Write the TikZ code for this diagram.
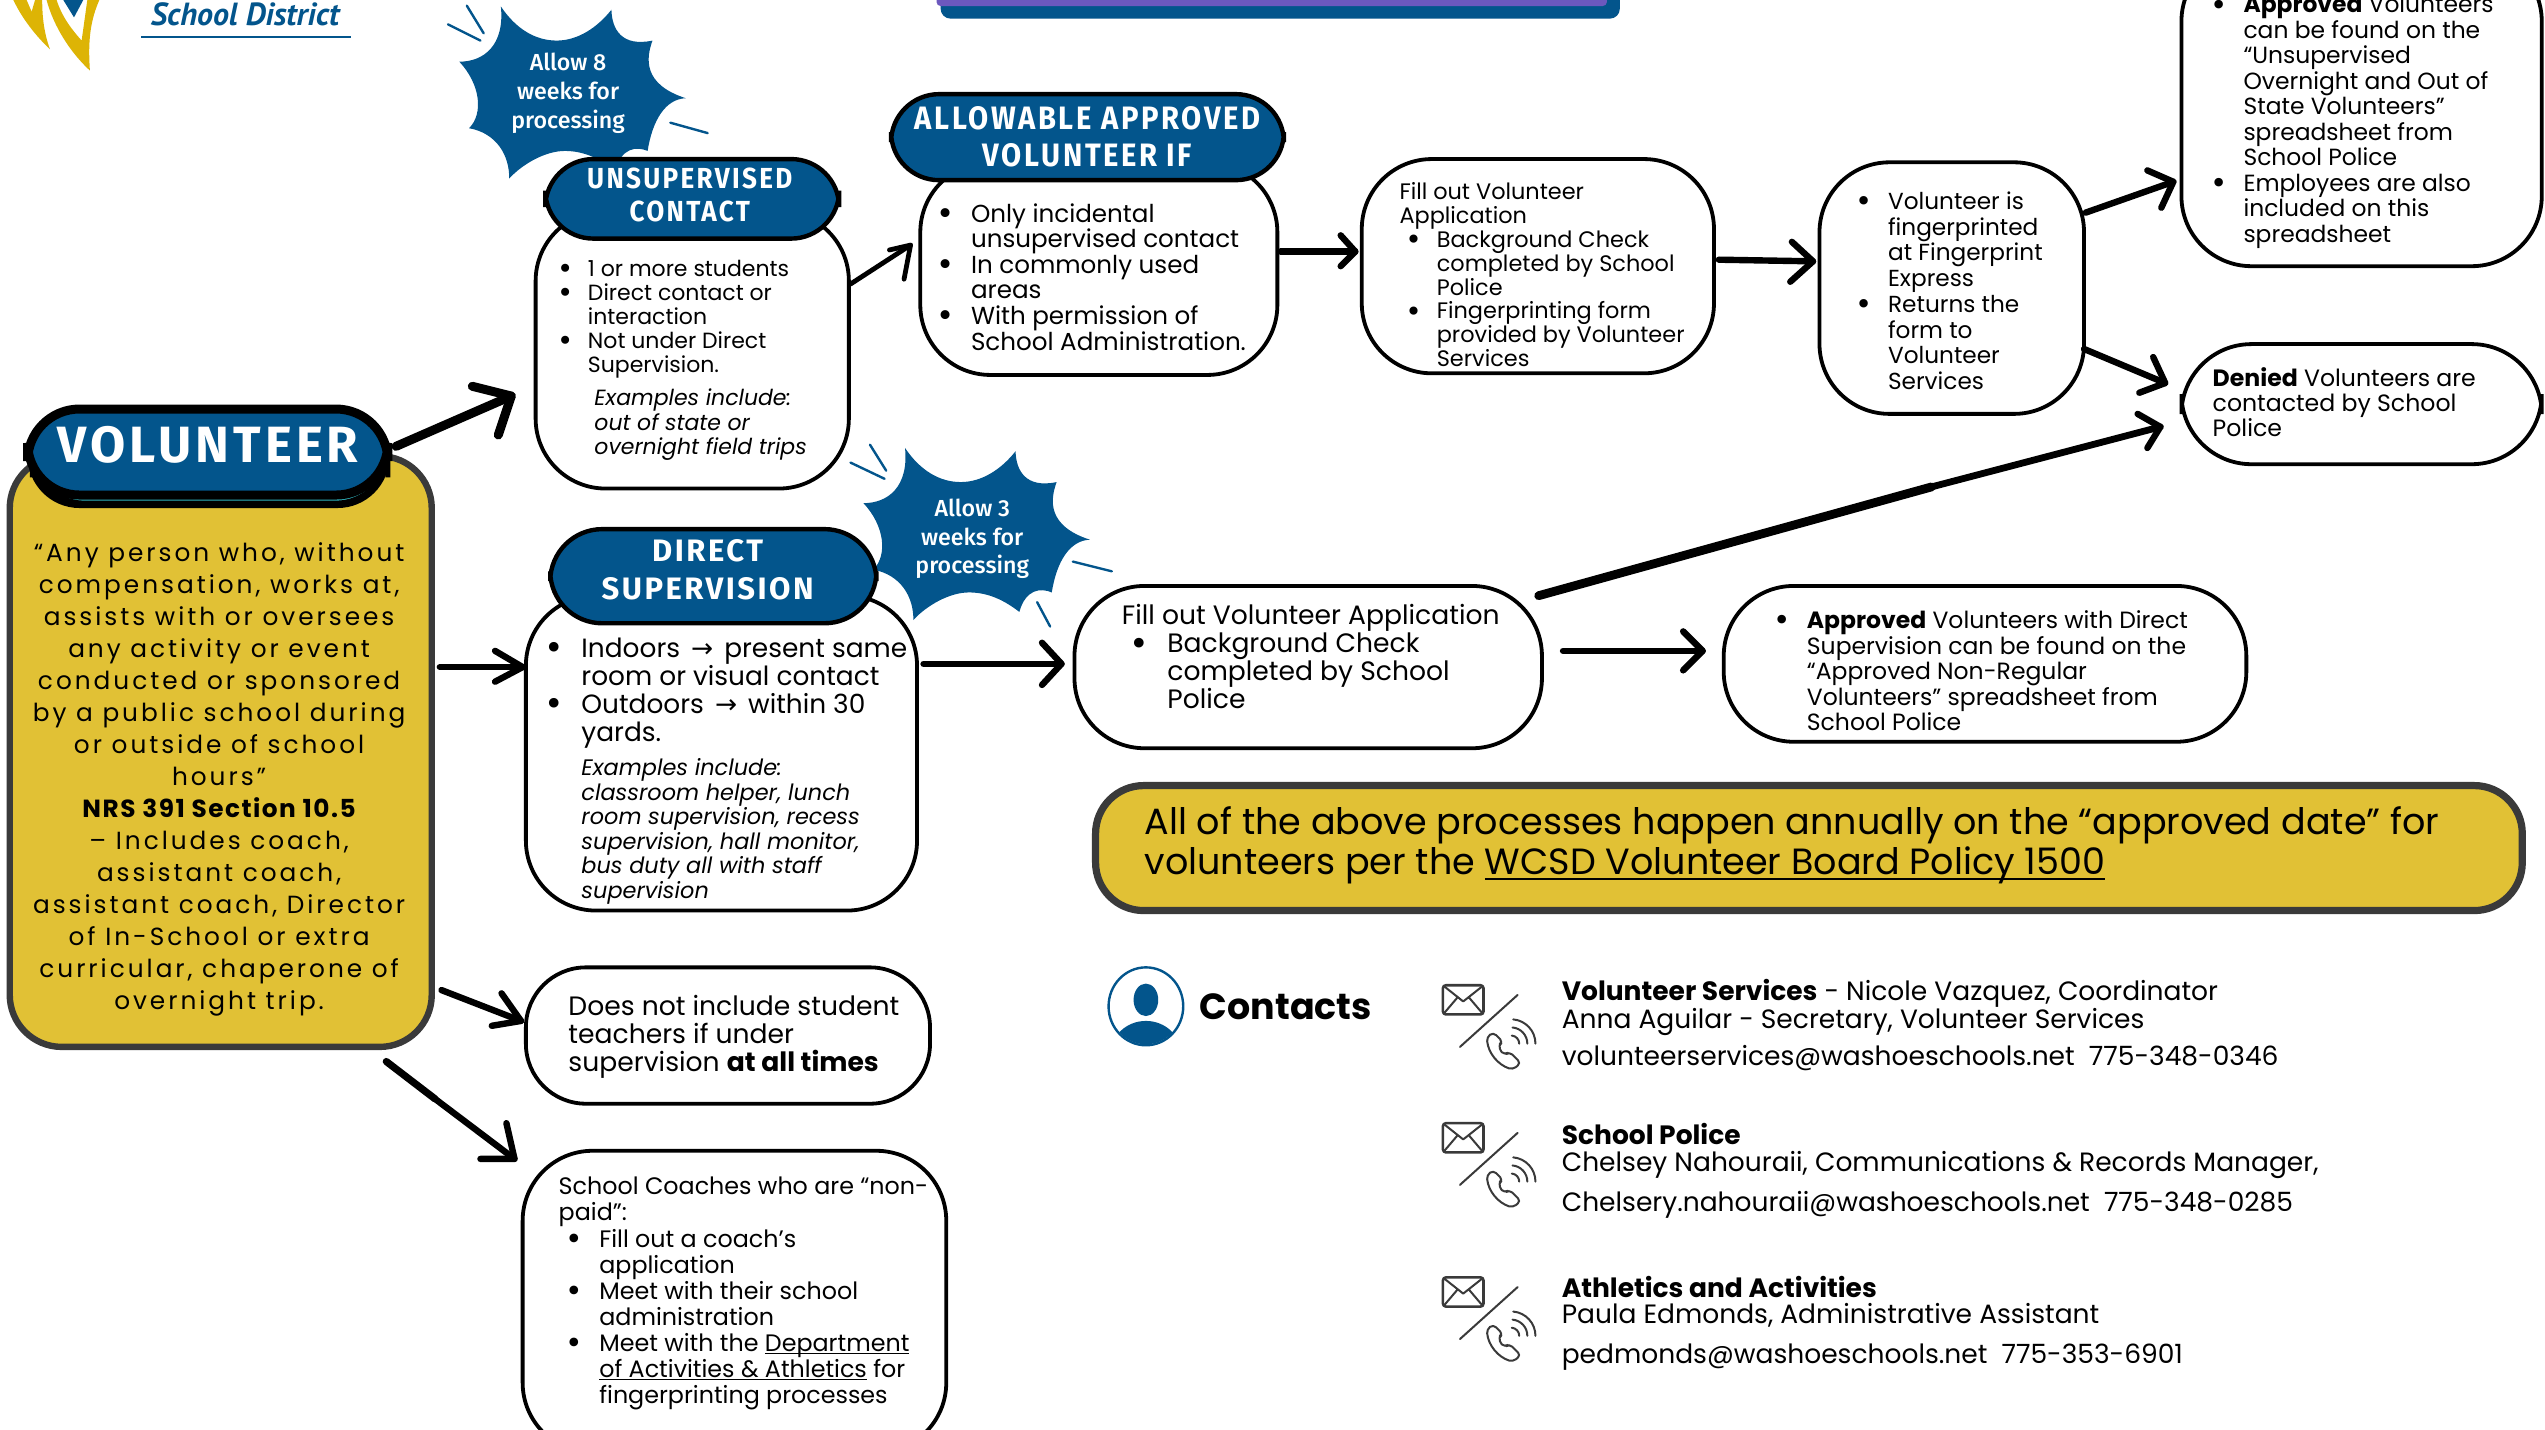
\documentclass[tikz,border=0pt]{standalone}
\usepackage{fontspec}
\setmainfont{Poppins}
\newfontfamily\headfont[LetterSpace=8]{Fira Sans Bold}
\newfontfamily\headnarrow[LetterSpace=8,FakeStretch=0.9]{Fira Sans Bold}
\newfontfamily\burstfont{Fira Sans Medium}
\newfontfamily\voltext[LetterSpace=12]{Poppins}
\newfontfamily\volbold[LetterSpace=6]{Poppins Bold}
\newfontfamily\logofont{PT Sans}
\newfontfamily\symfont{DejaVu Sans}
\definecolor{navy}{HTML}{03558C}
\definecolor{gold}{HTML}{E1C135}
\definecolor{edge}{HTML}{3A3A3A}
\definecolor{tealc}{HTML}{2FB4BE}
\definecolor{purp}{HTML}{6C58BE}
\definecolor{logoy}{HTML}{DDB405}
\newcommand{\bl}{\makebox[0pt][r]{\raisebox{-0.1em}{\scalebox{1.25}{\symfont •}}\hspace{0.67em}}}
\newcommand{\rarr}{\hspace{0.15em}{\symfont →}\hspace{0.15em}}
\newcommand{\ulin}[1]{\setbox0\hbox{#1}\rlap{\rule[-0.13em]{\wd0}{0.055em}}\box0\relax}
\newcommand{\fs}[2]{\fontsize{#1pt}{#2pt}\selectfont}
\tikzset{
 x=0.8115pt,y=-0.8115pt,
 box/.style={draw=black,line width=1.9pt,fill=white,rounded corners=35pt},
 head/.style={draw=black,line width=2.2pt,fill=navy,rounded corners=24pt},
 txt/.style={inner sep=0pt,anchor=north west,align=left,text=black},
 headtxt/.style={inner sep=0pt,align=center,text=white,font=\headfont},
 burst/.style={inner sep=0pt,align=center,text=white,font=\burstfont\fs{11.6}{14.3}},
 arr/.style={line width=3.2pt,line cap=round,line join=round},
 tick/.style={draw=navy,line width=1.2pt,line cap=round},
 ico/.style={draw=edge,line width=1pt,line cap=round,line join=round},
}
\newcommand{\burstshape}[1]{%
 \fill[navy,shift={#1}]
 (-41.4,-54) .. controls (-32,-40) and (-20,-33) .. (-7,-33)
 .. controls (6,-33) and (18,-41) .. (26.7,-52)
 .. controls (27,-40) and (33,-29) .. (52,-33)
 .. controls (48,-22) and (46,-6) .. (72.5,2.5)
 .. controls (60,3) and (52,16) .. (49,35)
 .. controls (42,32) and (33,33) .. (29,47)
 .. controls (20,40) and (10,35) .. (-2,35)
 .. controls (-14,35) and (-28,43) .. (-36.3,52)
 .. controls (-36,38) and (-44,24) .. (-61,21)
 .. controls (-52,12) and (-54,-6) .. (-67,-20)
 .. controls (-52,-20) and (-39,-30) .. (-41.4,-54) -- cycle;
}
\newcommand{\contacticon}[1]{%
 \begin{scope}[shift={#1}]
 \draw[ico,rounded corners=1.5pt,line width=1.3pt] (0,0) rectangle (25,18);
 \draw[ico] (0.5,0.5) -- (12.5,10) -- (24.5,0.5) (0.5,17.5) -- (9,7.5) (24.5,17.5) -- (16,7.5);
 \draw[ico] (10.5,38) -- (46,6);
 \draw[ico,rounded corners=2pt] (31,29) -- (27,32) .. controls (28,42) and (34,49) .. (43,52) -- (48,48) -- (41,41) -- (38,43) .. controls (36,41) and (35,39) .. (34,37) -- (37,35) -- cycle;
 \draw[ico] (47,36) arc (0:-85:5) (52,36) arc (0:-85:10) (57,36) arc (0:-85:15);
 \end{scope}}
\begin{document}
\begin{tikzpicture}
\useasboundingbox (0,0) rectangle (1568,880.5);
% logo
\fill[logoy] (8.2,0) .. controls (14,12) and (22,22) .. (30.8,30.4) .. controls (27,20) and (26,10) .. (26,0) -- (21.6,0) -- (19.5,7.2) -- (16.4,0) -- cycle;
\fill[logoy] (28.7,0) .. controls (33,16) and (43,32) .. (55.4,43.5) .. controls (54,24) and (56,12) .. (61.2,0) -- (53.8,0) -- (50.3,25) .. controls (44,18) and (38,10) .. (34.9,0) -- cycle;
\fill[navy] (39,0) -- (51.3,0) -- (45.6,10.7) -- cycle;
\node[inner sep=0pt,text=navy] (logotxt) at (151,9) {\logofont\bfseries\itshape\fs{16}{18}School District};
\draw[navy,line width=1pt] (87,23) -- (216,23);
% title bar bottom
\fill[navy,rounded corners=5pt] (579.5,-12) rectangle (998,11.5);
\fill[purp,rounded corners=2pt] (577,-10) rectangle (990,3.7);
% bursts
\burstshape{(350,58)}
\draw[tick] (276,15) -- (296,25) (287.6,3.5) -- (298,20.5) (413,75.6) -- (436,82);
\node[burst] (b8) at (350,57.5) {Allow 8\\weeks for\\processing};
\burstshape{(599,330)}
\draw[tick] (524,285) -- (545,295) (536,274) -- (546,290) (661,346) -- (685,352) (639,371) -- (647,386);
\node[burst] (b3) at (599,332) {Allow 3\\weeks for\\processing};
% Volunteer panel
\draw[draw=edge,line width=3.2pt,fill=gold,rounded corners=26pt] (6,281) rectangle (266,645);
\node[inner sep=0pt,align=center,font=\voltext\fs{12.4}{16}] (vtext) at (135,480) {“Any person who, without\\compensation, works at,\\assists with or oversees\\any activity or event\\conducted or sponsored\\by a public school during\\or outside of school\\hours”\\{\volbold NRS 391 Section 10.5}\\– Includes coach,\\assistant coach,\\assistant coach, Director\\of In-School or extra\\curricular, chaperone of\\overnight trip.};
\fill[black,rounded corners=26pt] (17,256) rectangle (240,313);
\draw[line width=2.5pt,draw=black,fill=tealc,rounded corners=26pt] (20,262) rectangle (239,310);
\draw[draw=black,line width=4.5pt,fill=navy,rounded corners=26pt] (17,252) rectangle (239,305);
\node[headtxt,font=\headfont\fs{25.5}{28}] (vol) at (128,274) {VOLUNTEER};
% unsupervised
\draw[box] (330,130) rectangle (523,301);
\node[txt,font=\fs{11}{12}] (t1) at (362,160) {\bl 1 or more students\\\bl Direct contact or\\interaction\\\bl Not under Direct\\Supervision.};
\node[txt,font=\itshape\fs{11}{12.2}] (t1b) at (366,239.5) {Examples include:\\out of state or\\overnight field trips};
\draw[head] (336,98) rectangle (517,147);
\node[headtxt,font=\headnarrow\fs{14.5}{16.5}] (h1) at (425,120) {UNSUPERVISED\\CONTACT};
% allowable
\draw[box] (567,100) rectangle (787,231);
\node[txt,font=\fs{12.3}{12.8}] (t2) at (598,125) {\bl Only incidental\\unsupervised contact\\\bl In commonly used\\areas\\\bl With permission of\\School Administration.};
\draw[head] (549,58) rectangle (791,111);
\node[headtxt,font=\headnarrow\fs{16.2}{18.5}] (h2) at (670,84) {ALLOWABLE APPROVED\\VOLUNTEER IF};
% fill out
\draw[box] (839,98) rectangle (1056,230);
\node[txt,font=\fs{11.2}{11.9}] (t3) at (862,112) {Fill out Volunteer\\Application};
\node[txt,font=\fs{11.2}{11.9}] (t3b) at (885,142) {\bl Background Check\\completed by School\\Police\\\bl Fingerprinting form\\provided by Volunteer\\Services};
% fingerprint
\draw[box] (1121,100) rectangle (1284,255);
\node[txt,font=\fs{11.6}{12.85}] (t4) at (1163,118) {\bl Volunteer is\\fingerprinted\\at Fingerprint\\Express\\\bl Returns the\\form to\\Volunteer\\Services};
% approved
\draw[box] (1344,-30) rectangle (1566,164);
\node[txt,font=\fs{11.7}{12.75}] (t5) at (1382,-3) {\bl\textbf{Approved} Volunteers\\can be found on the\\“Unsupervised\\Overnight and Out of\\State Volunteers”\\spreadsheet from\\School Police\\\bl Employees are also\\included on this\\spreadsheet};
% denied
\draw[box] (1344,212) rectangle (1566,286);
\node[txt,font=\fs{11.8}{12.7}] (t6) at (1363,226) {\textbf{Denied} Volunteers are\\contacted by School\\Police};
% direct
\draw[box] (324,367) rectangle (565,561);
\node[txt,font=\fs{13.2}{14}] (t7) at (358,392.5) {\bl Indoors \rarr{} present same\\room or visual contact\\\bl Outdoors \rarr{} within 30\\yards.};
\node[txt,font=\itshape\fs{11.2}{12.3}] (t7b) at (358,467) {Examples include:\\classroom helper, lunch\\room supervision, recess\\supervision, hall monitor,\\bus duty all with staff\\supervision};
\draw[head,rounded corners=26pt] (339,326) rectangle (540,384);
\node[headtxt,font=\headfont\fs{15.5}{19}] (h3) at (436,351) {DIRECT\\SUPERVISION};
% fill out 2
\draw[box] (662,361) rectangle (950,461);
\node[txt,font=\fs{13.3}{14}] (t8) at (691,372) {Fill out Volunteer Application\\\hspace*{22.7pt}\bl Background Check\\\hspace*{22.7pt}completed by School\\\hspace*{22.7pt}Police};
% approved direct
\draw[box] (1062,361) rectangle (1384,457);
\node[txt,font=\fs{11.75}{12.8}] (t9) at (1113,376) {\bl\textbf{Approved} Volunteers with Direct\\Supervision can be found on the\\“Approved Non-Regular\\Volunteers” spreadsheet from\\School Police};
% notes
\draw[box,rounded corners=30pt] (324,596) rectangle (573,680);
\node[txt,font=\fs{13.3}{14}] (t10) at (350,613) {Does not include student\\teachers if under\\supervision \textbf{at all times}};
\draw[box] (322,709) rectangle (583,895);
\node[txt,font=\fs{11.9}{13}] (t11) at (344,725) {School Coaches who are “non-\\paid”:};
\node[txt,font=\fs{11.9}{13}] (t11b) at (369,757) {\bl Fill out a coach’s\\application\\\bl Meet with their school\\administration\\\bl Meet with the \ulin{Department}\\\ulin{of Activities \& Athletics} for\\fingerprinting processes};
% gold note
\draw[draw=edge,line width=3.6pt,fill=gold,rounded corners=24pt] (675,484) rectangle (1554,561);
\node[txt,font=\fs{18.25}{20}] (t12) at (705,497) {All of the above processes happen annually on the “approved date” for\\volunteers per the \ulin{WCSD Volunteer Board Policy 1500}};
% contacts
\draw[navy,line width=1.2pt,fill=white] (706,620) ellipse (23 and 24);
\begin{scope}
\clip (706,620) ellipse (22.4 and 23.4);
\fill[navy] (706,616) ellipse (7.6 and 10);
\fill[navy] (706,650) ellipse (22 and 21);
\end{scope}
\node[txt,anchor=west,font=\bfseries\fs{18.2}{20}] (contacts) at (739,620) {Contacts};
\contacticon{(889,607)}
\contacticon{(889,692)}
\contacticon{(889,787)}
\node[txt,font=\fs{13.25}{16}] (c1) at (962,603) {\textbf{Volunteer Services} - Nicole Vazquez, Coordinator};
\node[txt,font=\fs{13.25}{16}] (c1b) at (962,621) {Anna Aguilar - Secretary, Volunteer Services};
\node[txt,font=\fs{13.25}{16}] (c1c) at (962,644) {volunteerservices@washoeschools.net\ \ 775-348-0346};
\node[txt,font=\fs{13.25}{16}] (c2) at (962,692) {\textbf{School Police}};
\node[txt,font=\fs{13.25}{16}] (c2b) at (962,709) {Chelsey Nahouraii, Communications \& Records Manager,};
\node[txt,font=\fs{13.25}{16}] (c2c) at (962,733.5) {Chelsery.nahouraii@washoeschools.net\ \ 775-348-0285};
\node[txt,font=\fs{13.25}{16}] (c3) at (962,786) {\textbf{Athletics and Activities}};
\node[txt,font=\fs{13.25}{16}] (c3b) at (962,803) {Paula Edmonds, Administrative Assistant};
\node[txt,font=\fs{13.25}{16}] (c3c) at (962,827.5) {pedmonds@washoeschools.net\ \ 775-353-6901};
% connector anchors
\coordinate (a1s) at (244,275); \coordinate (a1e) at (315,244);
\coordinate (a2s) at (271,411); \coordinate (a2e) at (322,411);
\coordinate (a3s) at (272,610); \coordinate (a3e) at (321,629);
\coordinate (a4s) at (238,654); \coordinate (a4k) at (268,677); \coordinate (a4e) at (317,714);
\coordinate (a5s) at (524,175); \coordinate (a5e) at (561,151);
\coordinate (a6s) at (789,155); \coordinate (a6e) at (835,155);
\coordinate (a7s) at (1059,160); \coordinate (a7e) at (1117,161);
\coordinate (a8s) at (1285,131); \coordinate (a8e) at (1339,112);
\coordinate (a9s) at (1284,215); \coordinate (a9e) at (1334,236);
\coordinate (a10s) at (569,409); \coordinate (a10e) at (654,409);
\coordinate (a11s) at (948,367); \coordinate (a11k) at (1190,300); \coordinate (a11e) at (1331,263);
\coordinate (a12s) at (963,401); \coordinate (a12e) at (1049,401);
\draw[arr,line width=4.5pt] (a1s) -- (a1e); \draw[arr,line width=4.5pt] (291,238) -- (a1e) -- (307,268);
\draw[arr] (a2s) -- (a2e); \draw[arr] (305,401) -- (a2e) -- (305,420);
\draw[arr] (a3s) -- (a3e); \draw[arr] (309,612) -- (a3e) -- (303,632);
\draw[arr,line width=3.6pt] (a4s) -- (a4k); \draw[arr] (a4k) -- (a4e); \draw[arr] (312,692) -- (a4e) -- (296,714);
\draw[arr,line width=2.4pt] (a5s) -- (a5e); \draw[arr,line width=2.4pt] (548,154) -- (a5e) -- (557,172);
\draw[arr] (a6s) -- (a6e); \draw[arr] (826,145) -- (a6e) -- (826,164);
\draw[arr] (a7s) -- (a7e); \draw[arr] (1104,149) -- (a7e) -- (1103,173.6);
\draw[arr] (a8s) -- (a8e); \draw[arr] (1323,105) -- (a8e) -- (1331.6,128);
\draw[arr] (a9s) -- (a9e); \draw[arr] (1326.6,220) -- (a9e) -- (1318,242);
\draw[arr] (a10s) -- (a10e); \draw[arr] (642,396) -- (a10e) -- (642,422);
\draw[arr,line width=4.4pt] (a11s) -- (a11k); \draw[arr,line width=3.4pt] (a11k) -- (a11e); \draw[arr] (1317,255) -- (a11e) -- (1323,276);
\draw[arr] (a12s) -- (a12e); \draw[arr] (1037,389) -- (a12e) -- (1037,413);
\end{tikzpicture}
\end{document}
